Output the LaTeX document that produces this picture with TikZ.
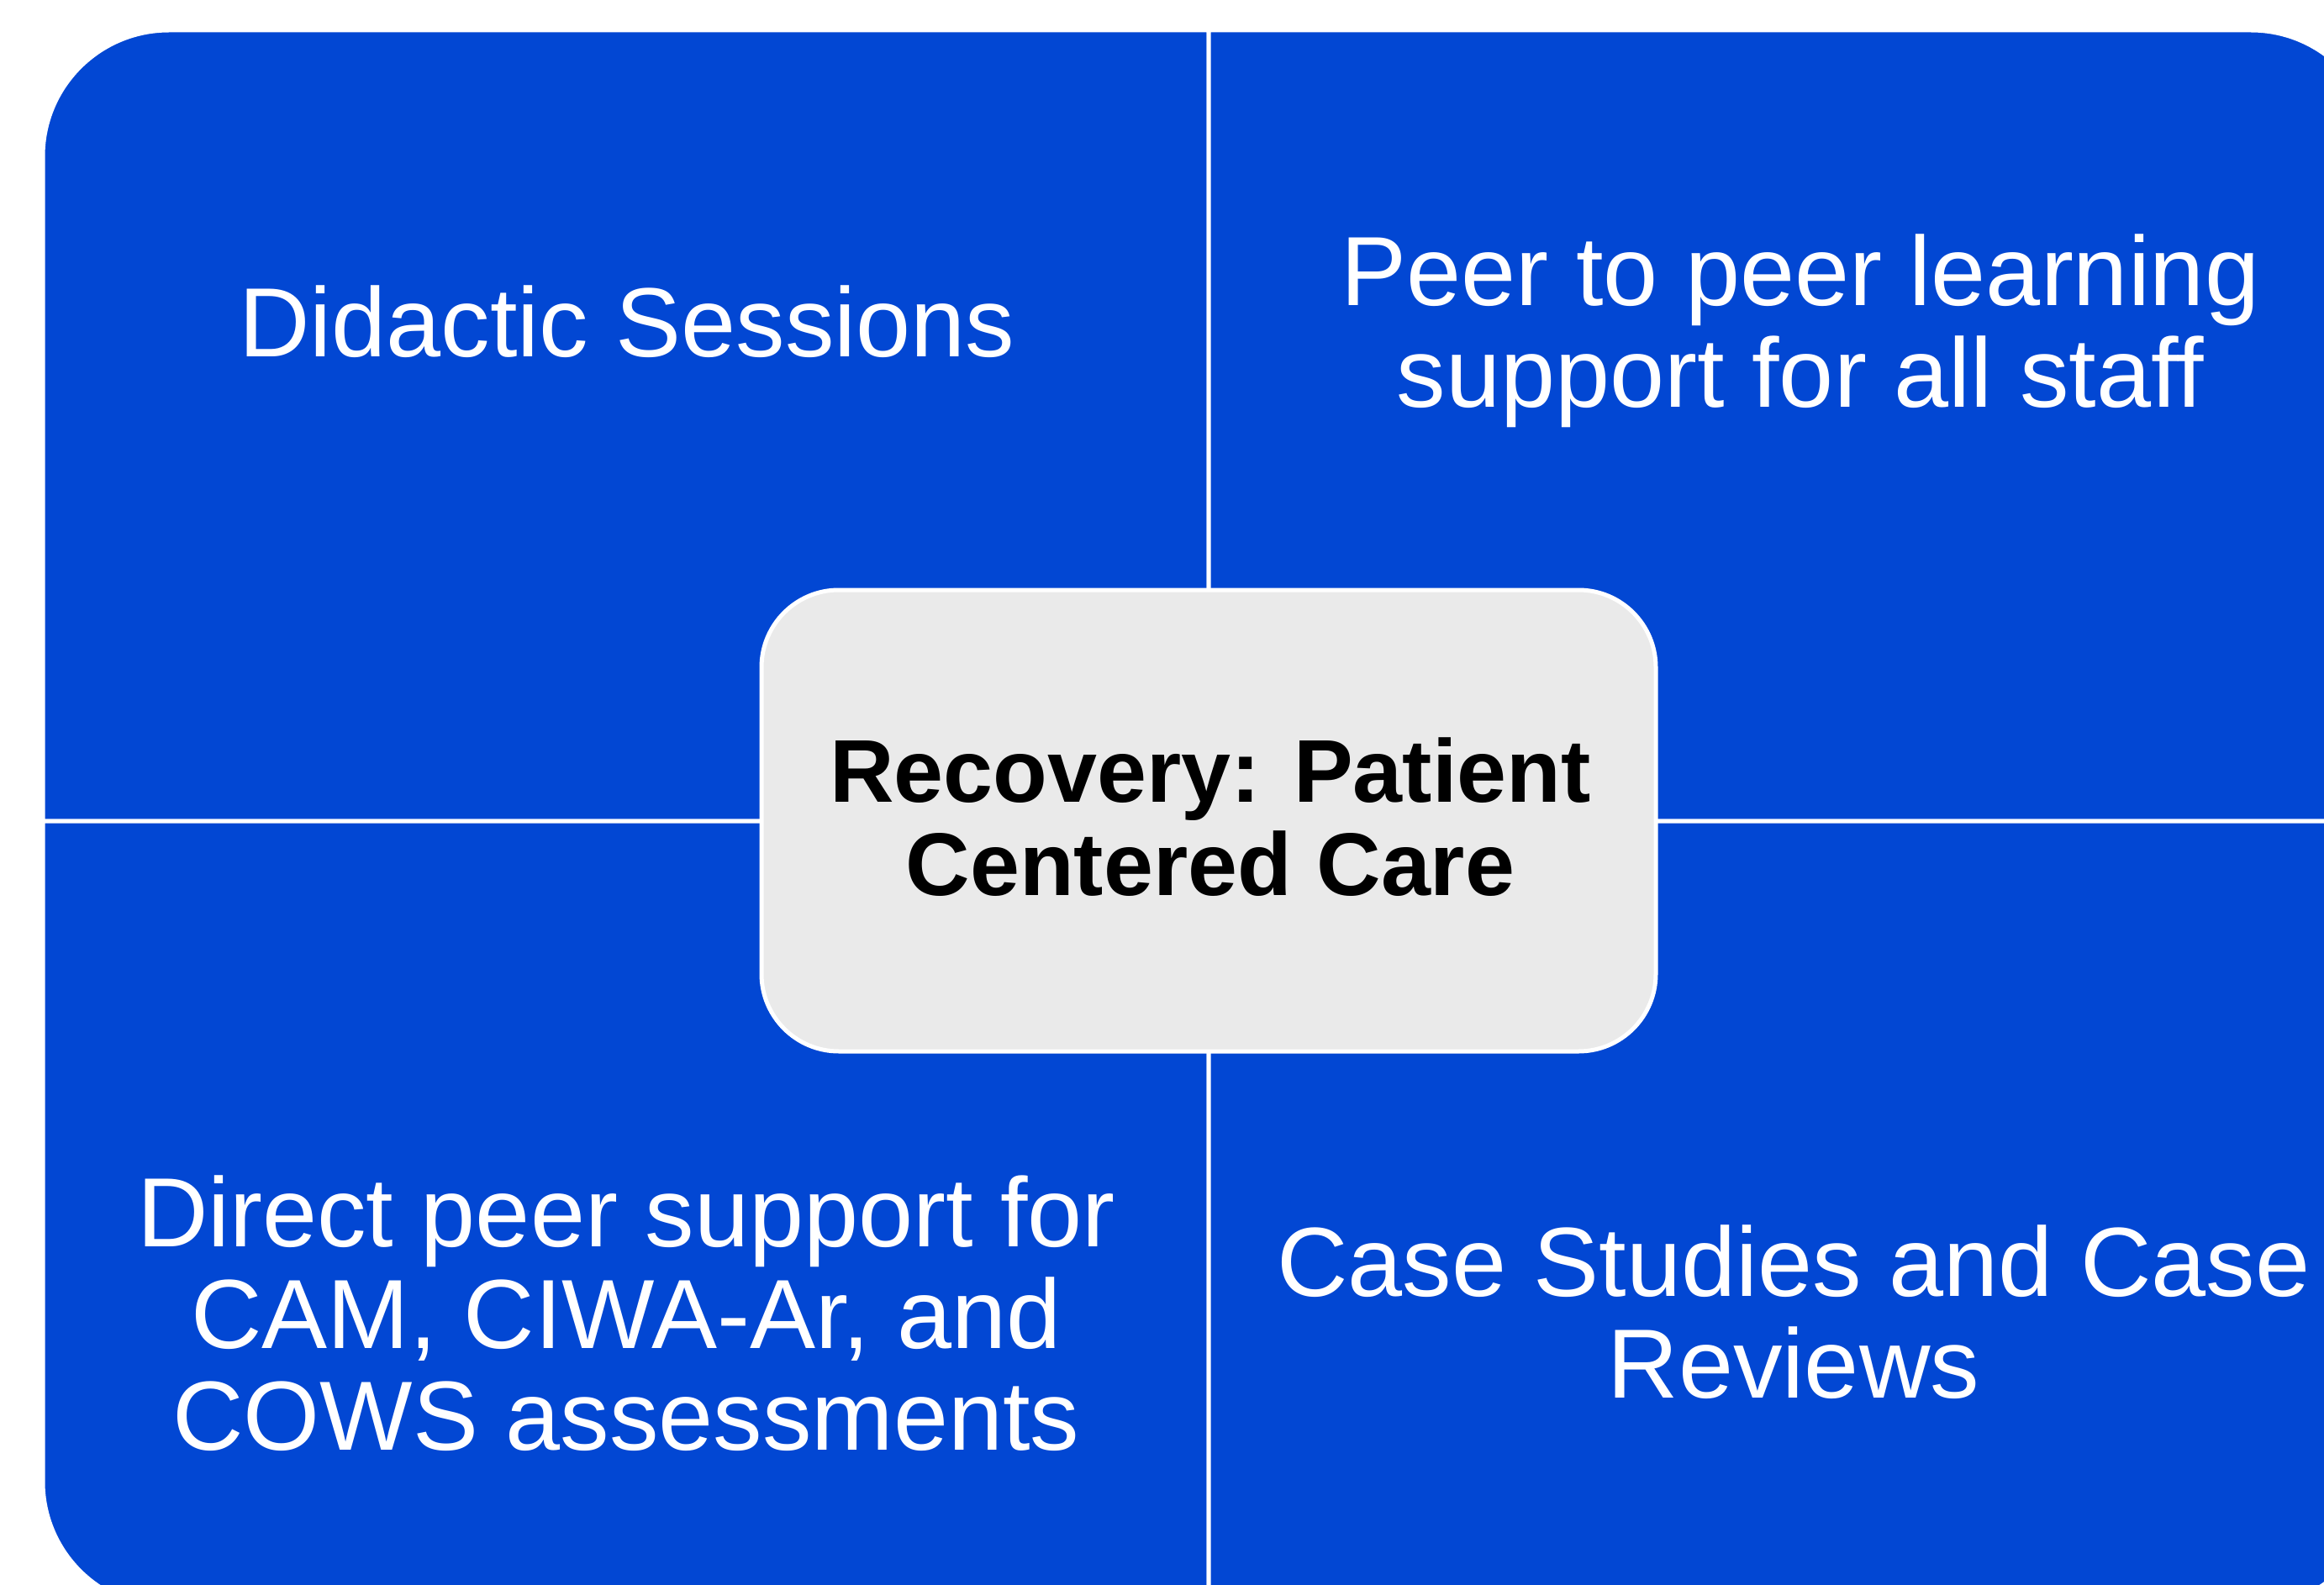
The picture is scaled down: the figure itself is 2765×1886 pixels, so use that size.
\documentclass[tikz,border=0pt]{standalone}
\usepackage{fontspec}
\setmainfont{Liberation Sans}
\definecolor{quadblue}{RGB}{2,71,211}
\definecolor{boxgray}{RGB}{234,234,234}
\tikzset{
  quad/.style={fill=quadblue, draw=white, line width=5pt},
  hub/.style={rectangle, rounded corners=92pt, fill=boxgray, draw=white, line width=5pt,
    minimum width=1064pt, minimum height=549pt, inner sep=0pt},
  quadtext/.style={text=white, align=center, anchor=base, inner sep=0pt,
    font=\fontsize{117}{121}\selectfont},
  hubtext/.style={text=black, align=center, anchor=base, inner sep=0pt,
    font=\fontsize{106}{111}\selectfont\bfseries}
}
\begin{document}
\begin{tikzpicture}[x=1pt,y=1pt]
\useasboundingbox (0,0) rectangle (2765,-1886);
\clip (0,0) rectangle (2765,-1886);
% quadrants
\path[quad] (1438,-977) -- (51,-977) -- (51,-186) arc[start angle=180,end angle=90,radius=150pt] -- (1438,-36) -- cycle;
\path[quad] (1438,-36) -- (2678,-36) arc[start angle=90,end angle=0,radius=150pt] -- (2828,-977) -- (1438,-977) -- cycle;
\path[quad] (51,-977) -- (1438,-977) -- (1438,-1913) -- (201,-1913) arc[start angle=270,end angle=180,radius=150pt] -- cycle;
\path[quad] (1438,-977) -- (2828,-977) -- (2828,-1763) arc[start angle=0,end angle=-90,radius=150pt] -- (1438,-1913) -- cycle;
% hub
\node[hub] (hub) at (1438,-976.5) {};
% texts (anchor base = baseline of the last line)
\node[quadtext] (didactic) at (746,-424) {Didactic Sessions};
\node[quadtext] (peer) at (2142,-484) {Peer to peer learning\\support for all staff};
\node[quadtext] (direct) at (745,-1725) {Direct peer support for\\CAM, CIWA-Ar, and\\COWS assessments};
\node[quadtext] (cases) at (2134,-1663) {Case Studies and Case\\Reviews};
\node[hubtext] (hubtxt) at (1440,-1065) {Recovery: Patient\\Centered Care};
\end{tikzpicture}
\end{document}
